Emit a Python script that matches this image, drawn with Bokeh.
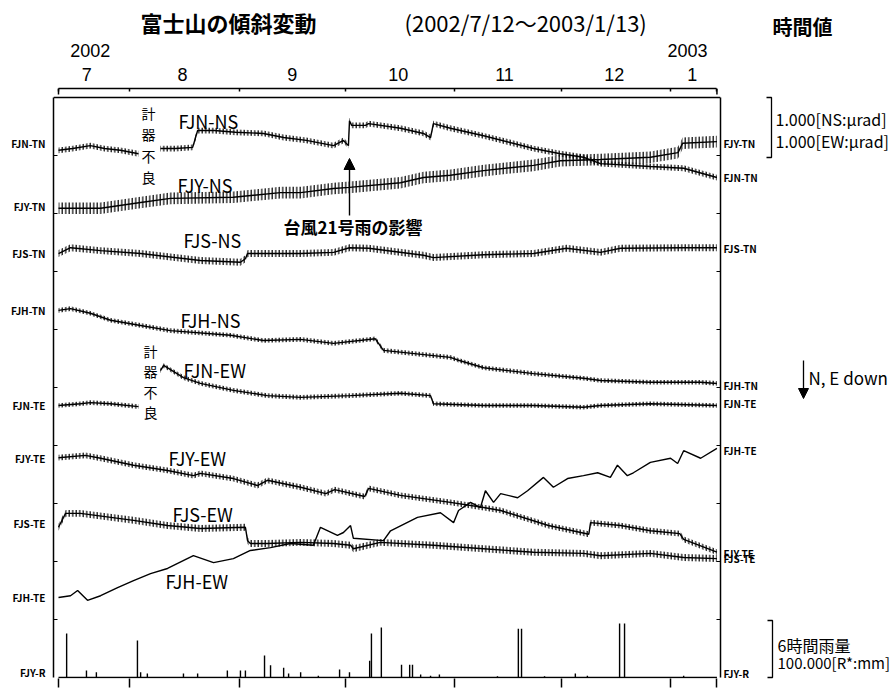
from bokeh.plotting import figure
from bokeh.layouts import column, row
from bokeh.models import (Range1d, LinearAxis, FixedTicker, Label, Arrow, NormalHead,
                          Span, ColumnDataSource)
from bokeh.core.properties import value
from bokeh.embed import file_html
from bokeh.resources import INLINE

# ---------------- data (day 0 = 2002-07-12, values in micro-rad chart units) -------------
MONTH_START_DAYS = [0, 20, 51, 81, 112, 142, 173, 186]
MONTH_LABEL_DAYS = [8, 35, 66, 96, 126, 157, 179]
MONTH_LABELS = ["7", "8", "9", "10", "11", "12", "1"]
YEAR_LABEL_DAYS = [9.0, 177.7]
YEAR_LABELS = ["2002", "2003"]

LEFT_TICK_VALUES = [9.21, 8.12, 7.31, 6.33, 4.69, 3.78, 2.66, 1.38, 0.09]
LEFT_TICK_LABELS = ["FJN-TN", "FJY-TN", "FJS-TN", "FJH-TN", "FJN-TE",
                    "FJY-TE", "FJS-TE", "FJH-TE", "FJY-R"]
RIGHT_TICK_VALUES = [9.21, 8.62, 7.40, 5.03, 4.72, 3.91, 2.14, 2.05, 0.07]
RIGHT_TICK_LABELS = ["FJY-TN", "FJN-TN", "FJS-TN", "FJH-TN", "FJN-TE",
                     "FJH-TE", "FJY-TE", "FJS-TE", "FJY-R"]
GRID_TICKS = [1, 2, 3, 4, 5, 6, 7, 8, 9]

FJN_NS_A = [(0, 9.09), (4, 9.12), (9.0, 9.17), (13, 9.12), (17.5, 9.09), (22.6, 9.03)]
FJN_NS_B = [(28.8, 9.12), (33, 9.12), (37.9, 9.14), (39.3, 9.43), (44, 9.43), (50, 9.40),
            (57.9, 9.38), (63.6, 9.31), (70, 9.26), (77.7, 9.17), (80.5, 9.26), (81.9, 9.17),
            (82.2, 9.60), (82.8, 9.52), (86.7, 9.52), (87.6, 9.55), (96.6, 9.47), (103.1, 9.38),
            (105.1, 9.31), (105.9, 9.55), (110.7, 9.47), (120.1, 9.34), (134.2, 9.12),
            (141.8, 9.03), (148.3, 8.97), (153.1, 8.86), (167.2, 8.81), (176.6, 8.78), (186, 8.62)]
FJY_NS = [(0, 8.09), (11.9, 8.09), (23.2, 8.19), (31.6, 8.26), (49.4, 8.28), (62.7, 8.36),
          (68.4, 8.36), (77.7, 8.43), (82.2, 8.45), (96.6, 8.53), (103.1, 8.62), (110.7, 8.66),
          (120.1, 8.74), (134.2, 8.83), (141.8, 8.91), (153.1, 8.93), (167.2, 8.97), (175, 9.05),
          (176.3, 9.21), (186, 9.24)]
FJS_NS = [(0, 7.31), (3.4, 7.41), (11.9, 7.36), (23.2, 7.31), (40.1, 7.19), (51.4, 7.16),
          (52.8, 7.22), (53.4, 7.31), (68.4, 7.31), (77.7, 7.33), (82.2, 7.41), (87.6, 7.40),
          (103.1, 7.28), (105.9, 7.24), (120.1, 7.29), (134.2, 7.31), (143.5, 7.40), (153.1, 7.33),
          (158.8, 7.40), (176.6, 7.41), (186, 7.41)]
FJH_NS = [(0, 6.33), (3.4, 6.36), (9.0, 6.28), (14.7, 6.16), (23.2, 6.07), (31.6, 5.98),
          (48.6, 5.90), (57.9, 5.81), (68.4, 5.83), (77.7, 5.76), (89.5, 5.84), (91.8, 5.64),
          (105.9, 5.55), (110.7, 5.52), (113, 5.47), (120.1, 5.34), (134.2, 5.24), (148.3, 5.16),
          (153.1, 5.12), (167.2, 5.09), (181.4, 5.09), (186, 5.07)]
FJN_EW_A = [(0, 4.69), (6.2, 4.72), (9.0, 4.74), (14.7, 4.72), (22.6, 4.67)]
FJN_EW_B = [(28.8, 5.29), (29.7, 5.38), (35.3, 5.17), (40.1, 5.07), (49.4, 4.95), (59.0, 4.86),
            (68.4, 4.83), (82.5, 4.86), (96.6, 4.90), (105.1, 4.86), (105.9, 4.72), (120.1, 4.69),
            (134.2, 4.69), (148.3, 4.66), (153.1, 4.69), (167.2, 4.72), (186, 4.69)]
FJY_EW = [(0, 3.79), (7.6, 3.83), (11.9, 3.78), (21.2, 3.66), (30.8, 3.57), (38.1, 3.48),
          (40.1, 3.52), (49.4, 3.43), (56.2, 3.31), (59.0, 3.40), (68.4, 3.28), (75.5, 3.17),
          (78, 3.24), (86.5, 3.12), (87.6, 3.26), (96.6, 3.14), (110.7, 3.02), (120.1, 2.93),
          (124.9, 2.88), (138.4, 2.62), (149.8, 2.47), (150.3, 2.67), (158.8, 2.62), (167.2, 2.53),
          (175.5, 2.48), (176.6, 2.38), (186, 2.16)]
FJS_EW = [(0, 2.59), (2.0, 2.83), (6.2, 2.83), (21.2, 2.71), (30.8, 2.62), (40.1, 2.57),
          (52.8, 2.59), (53.4, 2.36), (54.2, 2.31), (59.0, 2.31), (68.4, 2.33), (77.7, 2.31),
          (82.5, 2.28), (83.3, 2.22), (90.9, 2.33), (105.9, 2.28), (120.1, 2.22), (134.2, 2.16),
          (148.3, 2.14), (153.1, 2.10), (167.2, 2.14), (176.6, 2.07), (186, 2.05)]
FJH_EW = [(0, 1.38), (3.4, 1.41), (5.4, 1.50), (8.2, 1.33), (11.9, 1.41), (16.7, 1.55),
          (21.2, 1.67), (26.0, 1.79), (30.8, 1.88), (38.1, 2.10), (43.8, 1.98), (49.4, 2.05),
          (54.2, 2.19), (59.9, 2.24), (65.5, 2.31), (72.0, 2.28), (74.0, 2.59), (78.8, 2.45),
          (80.5, 2.50), (82.5, 2.62), (83.3, 2.40), (91.8, 2.36), (93.8, 2.53), (101.4, 2.76),
          (107.9, 2.84), (111.6, 2.67), (113.0, 2.88), (116.4, 3.02), (119.2, 2.93), (120.6, 3.22),
          (122.9, 3.02), (124.9, 3.17), (129.7, 3.10), (132.5, 3.22), (137.0, 3.45), (139.8, 3.28),
          (143.8, 3.43), (148.3, 3.48), (152.3, 3.53), (155.9, 3.45), (157.9, 3.66), (160.7, 3.48),
          (162.4, 3.53), (167.2, 3.71), (172.9, 3.78), (174.9, 3.69), (176.6, 3.91), (181.4, 3.78),
          (186, 3.95)]
# daily (tidal) swing half-width
SWING = {"FJN_NS": 0.05, "FJY_NS": 0.10, "FJS_NS": 0.06, "FJH_NS": 0.04,
         "FJN_EW": 0.04, "FJY_EW": 0.05, "FJS_EW": 0.06, "FJH_EW": 0.0}

# 6-hour rainfall at FJY (mm)
RAIN_DAYS = [2.3, 7.9, 10.7, 22.3, 23.2, 25.1, 35.3, 39.3, 47.7, 51.4, 52.8, 58.2, 59.9, 63.6,
             65.0, 68.4, 73.4, 79.4, 82.2, 87.9, 88.4, 91.2, 96.9, 99.2, 100.0, 102.3, 105.1,
             107.6, 124.0, 129.9, 130.8, 137.3, 146.0, 149.4, 158.5, 159.9, 176.6]
RAIN_MM = [76, 12, 9, 64, 9, 7, 7, 7, 12, 12, 12, 38, 21, 17, 7, 9, 3, 14, 9, 29, 76, 86,
           22, 22, 22, 5, 3, 5, 2, 84, 84, 2, 7, 3, 93, 93, 3]
RAIN_SCALE_MM = 100.0   # 100 mm per division

# ---------------- layout helpers (page pixel -> data units) ----------------
PX_PER_DAY = 3.54
X_ORIGIN_PX = 58
Y_ZERO_PX, PX_PER_DIV = 677, 58


def dx(px):
    return (px - X_ORIGIN_PX) / PX_PER_DAY


def dy(py):
    return (Y_ZERO_PX - py) / PX_PER_DIV


LATIN = "Noto Sans CJK JP, sans-serif"
AXISFONT = "Liberation Sans, sans-serif"
JP = "Noto Sans CJK JP, sans-serif"

TOTAL_W, TOTAL_H = 895, 689
TITLE_H = 62
MAIN_W = 760
BODY_H = TOTAL_H - TITLE_H
FRAME_TOP, FRAME_BOTTOM, FRAME_LEFT, FRAME_RIGHT = 88, 678, 53, 720


def lab(fig, text, x, y, size, font=LATIN, bold=False, align="left", baseline="middle", lh=1.2):
    fig.add_layout(Label(x=x, y=y, text=text, text_font=font,
                         text_font_size=f"{size}px", text_align=align, text_baseline=baseline,
                         text_font_style="bold" if bold else "normal", text_color="black",
                         text_line_height=lh))


def bare(fig):
    fig.outline_line_color = None
    fig.grid.visible = False
    return fig


x_range = Range1d(dx(FRAME_LEFT), dx(FRAME_RIGHT))

# ---------------- main plot ----------------
p = bare(figure(width=MAIN_W, height=BODY_H, output_backend="svg", toolbar_location=None,
                x_range=x_range,
                y_range=Range1d(dy(FRAME_BOTTOM), dy(FRAME_TOP)),
                x_axis_location=None, y_axis_location=None,
                min_border_left=FRAME_LEFT, min_border_right=MAIN_W - FRAME_RIGHT,
                min_border_top=FRAME_TOP - TITLE_H, min_border_bottom=TOTAL_H - FRAME_BOTTOM))

# ---------------- title strip (title + year labels); its frame aligns with the main frame --------
t = bare(figure(width=MAIN_W, height=TITLE_H, output_backend="svg", toolbar_location=None,
                x_range=x_range, y_range=Range1d(dy(TITLE_H), dy(0)),
                x_axis_location=None, y_axis_location=None,
                min_border_left=FRAME_LEFT, min_border_right=MAIN_W - FRAME_RIGHT,
                min_border_top=0, min_border_bottom=0))
lab(t, "富士山の傾斜変動", dx(140), dy(21), 22, font=JP, bold=True)
lab(t, "(2002/7/12～2003/1/13)", dx(404), dy(21), 22, font=JP)
for d, s in zip(YEAR_LABEL_DAYS, YEAR_LABELS):
    lab(t, s, d, dy(50), 18, font=AXISFONT, align="center", baseline="middle")

top = LinearAxis(ticker=FixedTicker(ticks=MONTH_LABEL_DAYS, minor_ticks=MONTH_START_DAYS),
                 major_label_overrides={float(d): m for d, m in zip(MONTH_LABEL_DAYS, MONTH_LABELS)},
                 bounds=(0, 186), major_tick_in=0, major_tick_out=0,
                 minor_tick_in=3, minor_tick_out=0, minor_tick_line_width=1.5,
                 axis_line_width=1.5, major_label_standoff=8,
                 major_label_text_font=AXISFONT, major_label_text_font_size="18px",
                 major_label_text_color="black")
p.add_layout(top, "above")

bottom = LinearAxis(ticker=FixedTicker(ticks=[], minor_ticks=MONTH_START_DAYS),
                    bounds=(0, 186), major_tick_in=0, major_tick_out=0,
                    minor_tick_in=0, minor_tick_out=9, minor_tick_line_width=1.5,
                    axis_line_color=None)
p.add_layout(bottom, "below")

left = LinearAxis(ticker=FixedTicker(ticks=LEFT_TICK_VALUES, minor_ticks=GRID_TICKS),
                  major_label_overrides={float(v): s for v, s in zip(LEFT_TICK_VALUES, LEFT_TICK_LABELS)},
                  bounds=(0, 10), major_tick_in=0, major_tick_out=0,
                  minor_tick_in=4, minor_tick_out=0, minor_tick_line_width=1.2,
                  axis_line_width=1.5, major_label_standoff=8,
                  major_label_text_font=LATIN, major_label_text_font_style="bold",
                  major_label_text_font_size="10px", major_label_text_color="black")
p.add_layout(left, "left")

right = LinearAxis(ticker=FixedTicker(ticks=RIGHT_TICK_VALUES, minor_ticks=GRID_TICKS),
                   major_label_overrides={float(v): s for v, s in zip(RIGHT_TICK_VALUES, RIGHT_TICK_LABELS)},
                   bounds=(0, 10), major_tick_in=0, major_tick_out=0,
                   minor_tick_in=4, minor_tick_out=0, minor_tick_line_width=1.2,
                   axis_line_width=1.5, major_label_standoff=3,
                   major_label_text_font=LATIN, major_label_text_font_style="bold",
                   major_label_text_font_size="10px", major_label_text_color="black")
p.add_layout(right, "right")

p.add_layout(Span(location=10, dimension="width", line_color="black", line_width=1.5))
p.segment(x0=[0, 186], x1=[0, 186], y0=[dy(FRAME_TOP)] * 2, y1=[10.05, 10.05],
          line_color="black", line_width=1.5)


def trace(points, swing):
    xs = [a for a, b in points]
    ys = [b for a, b in points]
    src = ColumnDataSource(dict(x=xs, y=ys, lo=[y - swing for y in ys], hi=[y + swing for y in ys]))
    if swing > 0:
        p.varea(x="x", y1="lo", y2="hi", source=src, fill_alpha=0,
                hatch_pattern="vertical_line", hatch_color="black", hatch_scale=3.5,
                hatch_weight=1.2)
    p.line("x", "y", source=src, line_color="black", line_width=1.4)


trace(FJN_NS_A, SWING["FJN_NS"])
trace(FJN_NS_B, SWING["FJN_NS"])
trace(FJY_NS, SWING["FJY_NS"])
trace(FJS_NS, SWING["FJS_NS"])
trace(FJH_NS, SWING["FJH_NS"])
trace(FJN_EW_A, SWING["FJN_EW"])
trace(FJN_EW_B, SWING["FJN_EW"])
trace(FJY_EW, SWING["FJY_EW"])
trace(FJS_EW, SWING["FJS_EW"])
trace(FJH_EW, SWING["FJH_EW"])

# rainfall
p.line([0, 186], [0, 0], line_color="black", line_width=1.4)
p.segment(x0=RAIN_DAYS, x1=RAIN_DAYS, y0=[0] * len(RAIN_DAYS),
          y1=[m / RAIN_SCALE_MM for m in RAIN_MM], line_color="black", line_width=1.4)

for nm, px, py in [("FJN-NS", 178, 120), ("FJY-NS", 177, 184), ("FJS-NS", 183, 239),
                   ("FJH-NS", 180, 319), ("FJN-EW", 183, 369), ("FJY-EW", 168, 457),
                   ("FJS-EW", 172, 513), ("FJH-EW", 165, 580)]:
    lab(p, nm, dx(px), dy(py), 18)

lab(p, "計\n器\n不\n良", dx(148), dy(102), 14, font=JP, align="center", baseline="top", lh=1.08)
lab(p, "計\n器\n不\n良", dx(150), dy(340), 14, font=JP, align="center", baseline="top", lh=1.03)

lab(p, "台風21号雨の影響", dx(283), dy(226), 17, font=JP, bold=True)
p.add_layout(Arrow(x_start=dx(349), y_start=dy(215), x_end=dx(349), y_end=dy(158),
                   start=None, end=NormalHead(size=11, fill_color="black", line_color="black"),
                   line_color="black", line_width=1.4))

# ---------------- right strip (scales / legend), full height ----------------
r = bare(figure(width=TOTAL_W - MAIN_W, height=TOTAL_H, output_backend="svg",
                toolbar_location=None,
                x_range=Range1d(dx(MAIN_W), dx(TOTAL_W)), y_range=Range1d(dy(TOTAL_H), dy(0)),
                x_axis_location=None, y_axis_location=None, min_border=0))

lab(r, "時間値", dx(802), dy(26), 20, font=JP, bold=True, align="center")
r.line([dx(766), dx(771), dx(771), dx(766)], [dy(97), dy(97), dy(157), dy(157)],
       line_color="black", line_width=1.3)
lab(r, "1.000[NS:μrad]", dx(775), dy(118), 16, font=JP)
lab(r, "1.000[EW:μrad]", dx(775), dy(140), 16, font=JP)

r.add_layout(Arrow(x_start=dx(803), y_start=dy(360), x_end=dx(803), y_end=dy(398),
                   start=None, end=NormalHead(size=10, fill_color="black", line_color="black"),
                   line_color="black", line_width=1.3))
lab(r, "N, E down", dx(808), dy(377), 17)

r.line([dx(767), dx(772), dx(772), dx(767)], [dy(620), dy(620), dy(677), dy(677)],
       line_color="black", line_width=1.3)
lab(r, "6時間雨量", dx(777), dy(644), 16, font=JP)
lab(r, "100.000[R*:mm]", dx(777), dy(662), 15, font=JP)

layout = row(column(t, p), r)
open("out.html", "w").write(file_html(layout, INLINE))
